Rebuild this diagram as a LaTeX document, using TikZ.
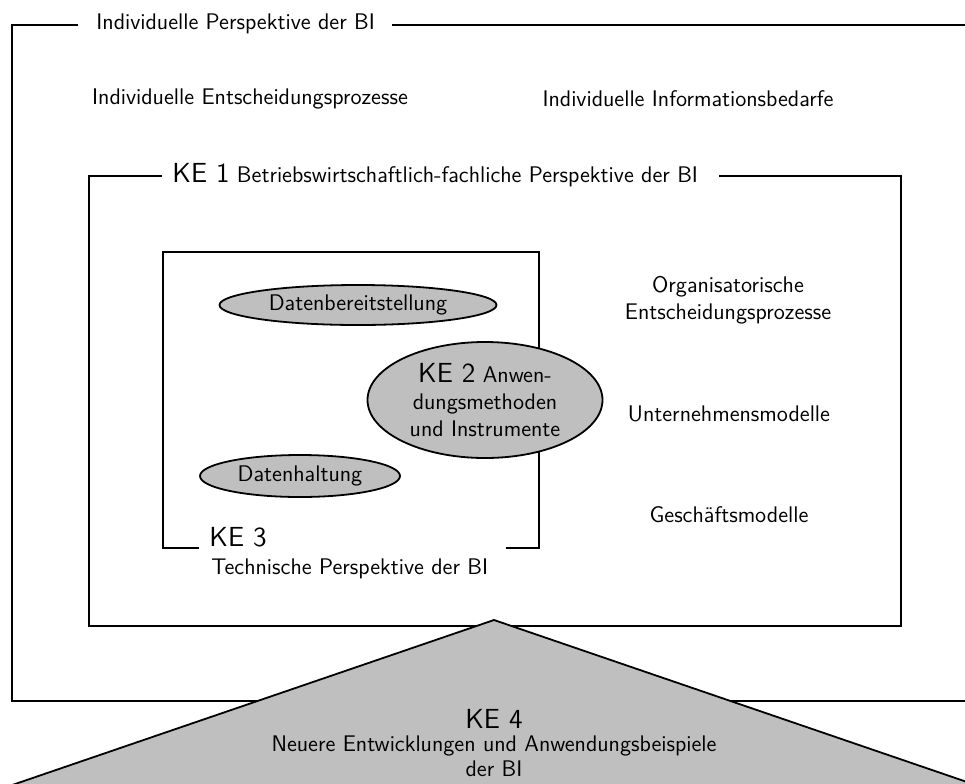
\documentclass[tikz,border=0pt]{standalone}
\usetikzlibrary{shapes.geometric}
\newcommand\bodyfont{\fontsize{11.3}{13.5}\selectfont}
\newcommand\kefont{\fontsize{13.8}{15}\selectfont}
\begin{document}
\begin{tikzpicture}[x=0.5pt,y=-0.5pt,font=\sffamily\bodyfont,
  frame/.style={draw=black,line width=0.9pt},
  blob/.style={ellipse,draw=black,line width=0.9pt,fill=gray!50,inner sep=0pt},
  plain/.style={inner sep=0pt,align=center}]
\useasboundingbox (0,0) rectangle (965,783);
\clip (0,0) rectangle (965,783);
% outer frame
\draw[frame] (78,25) -- (12,25) -- (12,701) -- (990,701) -- (990,25) -- (392,25);
\node[plain,anchor=west] (t0) at (96,24) {Individuelle Perspektive der BI};
\node[plain] (ie) at (250,99) {Individuelle Entscheidungsprozesse};
\node[plain] (ii) at (688,99) {Individuelle Informationsbedarfe};
% KE1 frame
\draw[frame] (162,176) -- (89,176) -- (89,626) -- (901,626) -- (901,176) -- (719,176);
\node[plain,anchor=base west] (t1) at (172,182) {{\kefont KE 1} Betriebswirtschaftlich-fachliche Perspektive der BI};
\node[plain] (oe) at (728,300) {Organisatorische\\Entscheidungsprozesse};
\node[plain] (um) at (729,414) {Unternehmensmodelle};
\node[plain] (gm) at (729,515) {Geschäftsmodelle};
% KE3 frame
\draw[frame] (199,548) -- (163,548) -- (163,252) -- (539,252) -- (539,548) -- (506,548);
\node[plain,anchor=base west] (k3) at (209,546) {\kefont KE 3};
\node[plain,anchor=base west] (t3) at (211,574) {Technische Perspektive der BI};
% ellipses
\node[blob,minimum width=277pt*0.5,minimum height=40pt*0.5] (db) at (358,305) {Datenbereitstellung};
\node[blob,minimum width=200pt*0.5,minimum height=42pt*0.5] (dh) at (300,476) {Datenhaltung};
\node[blob,minimum width=235pt*0.5,minimum height=116pt*0.5,align=center] (ke2) at (485,400) {{\kefont KE 2} Anwen-\\dungsmethoden\\und Instrumente};
% triangle
\coordinate (apex) at (494,620);
\coordinate (bl) at (494-2.92*180,800);
\coordinate (br) at (494+2.92*180,800);
\draw[line width=0.9pt,fill=gray!50] (apex) -- (br) -- (bl) -- cycle;
\node[plain] (ke4) at (494,719) {\kefont KE 4};
\node[plain] (ke4b) at (494,746) {Neuere Entwicklungen und Anwendungsbeispiele};
\node[plain] (ke4c) at (494,769) {der BI};
\end{tikzpicture}
\end{document}
